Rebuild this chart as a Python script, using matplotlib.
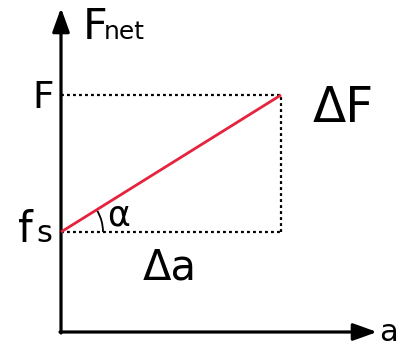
import numpy as np
import matplotlib
matplotlib.use('Agg')
import matplotlib.pyplot as plt
from matplotlib.patches import Arc

# values (in drawing units, origin at the axes corner)
a_values = [0, 220]        # a at f_s and at F
f_values = [100, 237]      # f_s and F
axis_ends = [316, 324]     # arrow tips of a- and F_net-axis

red = '#e5233d'
font = 'DejaVu Sans'

fig = plt.figure(figsize=(4.08, 3.5), dpi=100)
ax = fig.add_axes([0, 0, 1, 1])
ax.set_xlim(-61, 347)
ax.set_ylim(-18, 332)
ax.axis('off')

# axes with arrow heads
arrow = dict(arrowstyle='-|>,head_length=0.72,head_width=0.26', lw=2.3, color='black',
             mutation_scale=20, shrinkA=0, shrinkB=0)
ax.annotate('', xy=(axis_ends[0], 0), xytext=(-1, 0), arrowprops=arrow)
ax.annotate('', xy=(0, axis_ends[1]), xytext=(0, -1), arrowprops=arrow)

# dotted guide lines
dots = dict(color='black', lw=1.6, linestyle=(0, (1.3, 1.4)))
ax.plot([0, a_values[1]], [f_values[1], f_values[1]], **dots)
ax.plot([0, a_values[1]], [f_values[0], f_values[0]], **dots)
ax.plot([a_values[1], a_values[1]], [f_values[0], f_values[1]], **dots)

# red line
ax.plot(a_values, f_values, color=red, lw=2.0, solid_capstyle='butt', zorder=3)

# angle arc
ang = np.degrees(np.arctan2(f_values[1] - f_values[0], a_values[1] - a_values[0]))
ax.add_patch(Arc((a_values[0], f_values[0]), 84, 84, theta1=0, theta2=ang, lw=1.3, color='black'))

# labels
ax.text(22, 293, 'F', fontsize=31, family=font, ha='left', va='baseline')
ax.text(43, 293, 'net', fontsize=18, family=font, ha='left', va='baseline')
ax.text(-7, 224, 'F', fontsize=27, family=font, ha='right', va='baseline')
ax.text(252, 210, 'ΔF', fontsize=35, family=font, ha='left', va='baseline')
ax.text(-43, 90, 'f', fontsize=30, family=font, ha='left', va='baseline')
ax.text(-25, 90, 's', fontsize=22, family=font, ha='left', va='baseline')
ax.text(46, 107, 'α', fontsize=25, family=font, ha='left', va='baseline')
ax.text(82, 53, 'Δa', fontsize=30, family=font, ha='left', va='baseline')
ax.text(318, -9, 'a', fontsize=22, family=font, ha='left', va='baseline')

fig.savefig('out.png', dpi=100, facecolor='white')
